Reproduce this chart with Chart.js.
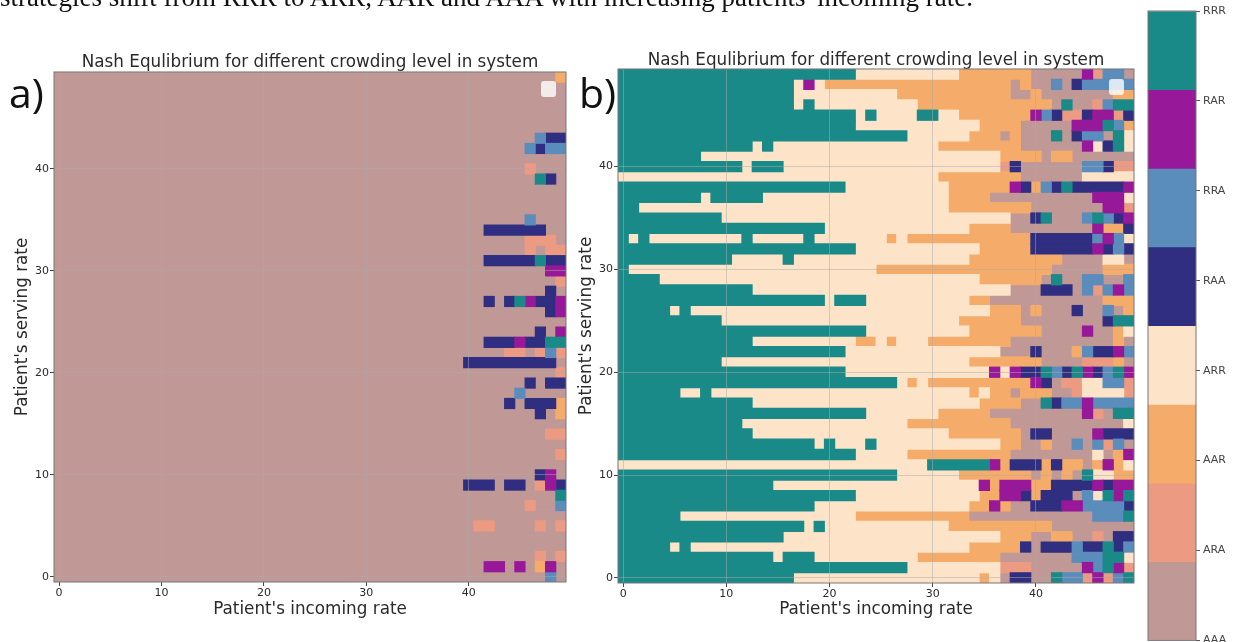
<!DOCTYPE html>
<html>
<head>
<meta charset="utf-8">
<title>Nash Equlibrium</title>
<script src="https://cdn.jsdelivr.net/npm/chart.js@4"></script>
<style>
  html, body { margin: 0; background: #fff; }
  #stage { position: relative; width: 1234px; height: 642px; overflow: hidden; filter: blur(0.55px); }
  canvas { position: absolute; }
  .caption { position: absolute; left: 0; top: -18px; font: 27px "Liberation Serif", serif; color: #111; white-space: nowrap; }
  .tag { position: absolute; font: 41px "Open Sans", sans-serif; color: #111; }
  .blank { position: absolute; width: 15px; height: 16px; border-radius: 3px; background: rgba(255,255,255,0.8); }
</style>
</head>
<body>
<div id="stage">
  <div class="caption">strategies shift from RRR to ARR, AAR and AAA with increasing patients' incoming rate.</div>
  <canvas id="panelA" width="575" height="600" style="left:0;top:40px"></canvas>
  <canvas id="panelB" width="570" height="600" style="left:575px;top:40px"></canvas>
  <canvas id="scaleBar" width="94" height="650" style="left:1140px;top:0"></canvas>
  <div class="tag" style="left:9px;top:64px">a)</div>
  <div class="tag" style="left:579px;top:64px">b)</div>
  <div class="blank" style="left:541px;top:81px"></div>
  <div class="blank" style="left:1109px;top:79px"></div>
</div>
<script>
// strategy order runs top to bottom on the colour bar
const strategies = ['RRR', 'RAR', 'RRA', 'RAA', 'ARR', 'AAR', 'ARA', 'AAA'];
const cellCodes  = ['R', 'P', 'B', 'N', 'C', 'O', 'S', 'A'];
const colors     = ['#1a8a88', '#98189a', '#5a8cbc', '#302e80', '#fde4c8', '#f5ac6a', '#ec9b82', '#c09896'];

const axisTicks = [0, 10, 20, 30, 40];

// one entry per serving rate (row 0 first): code + first incoming rate of each run
const rowsA = [
  'A0 B48 A49', 'A0 P42 A44 P45 A46 O47 P48 A49', 'A0 S47 A48 S49', 'A0', 'A0',
  'A0 S41 A43 S47 A48 S49', 'A0', 'A0 S46 A47 B49', 'A0 R49', 'A0 N40 A43 N44 A46 S47 P48 N49',
  'A0 N47 P48 A49', 'A0', 'A0 S49', 'A0', 'A0 S48',
  'A0', 'A0 N47 A48 O49', 'A0 N44 A45 N46 O49', 'A0 B45 A46', 'A0 N46 A47 N48',
  'A0 S49', 'A0 N40 A49', 'A0 S44 A46 S47 B48 S49', 'A0 N42 P45 N46 R48', 'A0 N47 A48 P49',
  'A0', 'A0 N48 P49', 'A0 N42 A43 N44 R45 P46 N47 P49', 'A0 N48 A49', 'A0 S49',
  'A0 P48', 'A0 N42 R47 N48', 'A0 S46 A47 S48', 'A0 S46 A49', 'A0 N42 A48',
  'A0 B46 A47', 'A0', 'A0', 'A0', 'A0 R47 N48 A49',
  'A0 S46 A47', 'A0', 'A0 B46 N47 B48', 'A0 B47 N48', 'A0',
  'A0', 'A0', 'A0', 'A0', 'A0 O49',
];

const rowsB = [
  'R0 C17 O35 C36 A37 N38 A40 R42 B43 S45 P46 S47 B48 R49',
  'R0 C28 S37 A40 P45 B46 R47 P48 S49',
  'R0 C15 R16 C19 O29 A37 B44 R47 C49',
  'R0 C5 R6 C7 O34 N39 A40 N41 B44 N45 R47 N48 B49',
  'R0 C16 O37 A40 O42 A44 S46 A47 N48',
  'R0 C18 R19 C20 O32 A42',
  'R0 C6 O23 A34 B46 R49',
  'R0 C19 O34 P36 O37 A38 N40 P43 B45 N49',
  'R0 C23 O35 P37 N39 O40 N41 A44 B45 C46 R47 P48 R49',
  'R0 C15 P35 O36 P37 O40 N42 P46 N47 P48',
  'R0 C27 O33 A40 O41 A42 O43 A44 R45 C46 O48',
  'C0 R30 P36 O37 N38 O41 N42 O43 A45 O46 P47 O48 C49',
  'R0 C23 O28 A38 C46 A47 O48 P49',
  'R0 C19 R20 C21 R24 C25 O37 A39 O41 A42 B44 A45 B46 S47 B48 A49',
  'R0 C13 O32 A39 N40 A42 P46 N47',
  'R0 C12 O28 A38 C49',
  'R0 C24 O31 A36 P45 S46 A47 R48',
  'R0 C13 O35 A39 R41 N42 B43 P45 B46',
  'R0 C6 R8 C9 O34 C35 O36 A38 O39 A42 S44 C45 S49',
  'R0 C27 O28 C29 O30 P40 N41 A42 S43 C45 B47 S49',
  'R0 C22 P36 C37 P38 N39 R41 B42 N43 R44 P45 N46 B47 R48 P49',
  'R0 C10 O34 A41 S45 O48 A49',
  'R0 C22 A37 N40 A41 O44 B45 N46 P48 B49',
  'R0 C13 O23 C25 O26 C27 O30 A38 O48 A49',
  'R0 C24 O34 A41 P45 A46 O48 C49',
  'R0 C10 O33 A39 N47 R48',
  'R0 C5 R6 C7 O36 A39 O40 A41 N44 A45 B47 A48 O49',
  'R0 C20 R21 C24 O34 A36 O47',
  'R0 C13 A38 N41 A44 B45 S46 B47 P48 B49',
  'R0 C4 O35 A41 R42 A43 B45 A47 B49',
  'R0 C1 O25 A42 O47',
  'R0 C11 R16 C17 O34 A43 C47 A49',
  'R0 C23 O35 N40 P46 N47 B48 N49',
  'R0 C1 R2 C3 R12 C13 R18 C19 O26 C27 O28 N40 B46 P47 B48 C49',
  'R0 C20 O34 A38 P46 O47 N49',
  'R0 C10 A38 N40 R41 A42 B45 R46 B47 N48 P49',
  'R0 C2 O32 A40 P47 S49',
  'R0 C8 R9 C14 O32 A36 P46 C49',
  'R0 C22 O32 P38 N39 O40 B41 N42 R43 N44 P49',
  'C0 O31 A39 C45',
  'R0 C12 R13 C16 S37 N38 A39 B45 N47 S48',
  'R0 C8 O37 A41 O42 A44',
  'R0 C13 R14 C15 O31 A39 P45 C46 N47 R48 C49',
  'R0 C28 O34 A37 O38 A39 R42 A43 N44 B45 A47 R48 C49',
  'R0 C23 O35 A39 P44 R47 B48 O49',
  'R0 C23 R24 C25 R29 C31 O33 P40 B41 N42 S43 N45 P46 S48 N49',
  'R0 C17 R18 C19 O29 A42 R43 A44 S46 B47 R48',
  'R0 C17 O27 A38 O40 A41 O48',
  'R0 C17 P18 C19 O20 A38 O39 A40 B42 A43 N44 B45',
  'R0 C23 O33 A40 P45 S46 B47 A49',
];

const INK = '#2a2a2a';
const GRID = 'rgba(170,170,170,0.5)';
const FONT = 'DejaVu Sans';

// turn the run strings into one floating-bar dataset per strategy
function rowsToDatasets(rows) {
  return cellCodes.map((code, i) => {
    const data = [];
    rows.forEach((row, y) => {
      const runs = row.split(' ');
      runs.forEach((run, k) => {
        if (run[0] !== code) return;
        const from = +run.slice(1);
        const to = k + 1 < runs.length ? +runs[k + 1].slice(1) : 50;
        data.push({ x: [from - 0.5, to - 0.5], y });
      });
    });
    return {
      label: strategies[i],
      data,
      backgroundColor: colors[i],
      grouped: false,
      barPercentage: 1,
      categoryPercentage: 1,
      inflateAmount: 0.5,
    };
  });
}

const frame = {
  id: 'frame',
  afterDraw(chart) {
    const { ctx, chartArea: a } = chart;
    ctx.save();
    ctx.strokeStyle = '#777';
    ctx.lineWidth = 1;
    ctx.strokeRect(a.left, a.top, a.right - a.left, a.bottom - a.top);
    ctx.restore();
  },
};

function heatmap(id, rows, o) {
  const axis = (extra) => ({
    type: 'linear',
    min: -0.5,
    max: 49.5,
    offset: false,
    afterBuildTicks: s => { s.ticks = axisTicks.map(value => ({ value })); },
    grid: { color: GRID, tickColor: '#444', tickLength: 4, offset: false, z: 1 },
    border: { display: false },
    ticks: { color: INK, font: { family: FONT, size: 11 }, padding: 1, maxRotation: 0, autoSkip: false },
    ...extra,
  });
  return new Chart(document.getElementById(id), {
    type: 'bar',
    data: { datasets: rowsToDatasets(rows) },
    plugins: [frame],
    options: {
      indexAxis: 'y',
      responsive: false,
      animation: false,
      layout: { padding: { right: o.right } },
      plugins: {
        legend: { display: false },
        title: {
          display: true,
          fullSize: false,
          text: 'Nash Equlibrium for different crowding level in system',
          color: INK,
          font: { family: FONT, size: 16.8, weight: 'normal' },
          padding: o.titlePad,
        },
      },
      scales: {
        x: axis({
          afterFit: s => { s.height = o.xHeight; },
          title: { display: true, text: "Patient's incoming rate", color: INK, font: { family: FONT, size: 16.8 }, padding: { top: 20, bottom: 20 } },
        }),
        y: axis({
          afterFit: s => { s.width = o.yWidth; },
          title: { display: true, text: "Patient's serving rate", color: INK, font: { family: FONT, size: 16.8 }, padding: { top: o.yTitlePad, bottom: 0 } },
        }),
      },
    },
  });
}

heatmap('panelA', rowsA, { right: 9, xHeight: 58, yWidth: 54, yTitlePad: 12.4, titlePad: { top: 12.8, bottom: -1 } });
heatmap('panelB', rowsB, { right: 11, xHeight: 57, yWidth: 43, yTitlePad: 1.4, titlePad: { top: 10.3, bottom: -1.5 } });

// colour bar: eight equal bands, labels spread evenly along the axis
const lastTick = strategies.length - 1;
new Chart(document.getElementById('scaleBar'), {
  type: 'bar',
  data: {
    labels: [''],
    datasets: strategies.map((s, i) => ({
      label: s,
      data: [[i * lastTick / strategies.length, (i + 1) * lastTick / strategies.length]],
      backgroundColor: colors[i],
      grouped: false,
      barPercentage: 1,
      categoryPercentage: 1,
    })),
  },
  plugins: [frame],
  options: {
    responsive: false,
    animation: false,
    layout: { padding: { left: 8, top: 11, bottom: 2 } },
    plugins: { legend: { display: false } },
    scales: {
      x: { display: false },
      y: {
        position: 'right',
        reverse: true,
        min: 0,
        max: lastTick,
        afterFit: s => { s.width = 38; },
        afterBuildTicks: s => { s.ticks = strategies.map((_, value) => ({ value })); },
        grid: { display: true, drawOnChartArea: false, tickColor: '#555', tickLength: 4 },
        border: { display: false },
        ticks: { color: '#444', font: { family: FONT, size: 11 }, padding: 3, autoSkip: false, callback: v => strategies[v] },
      },
    },
  },
});
</script>
</body>
</html>
